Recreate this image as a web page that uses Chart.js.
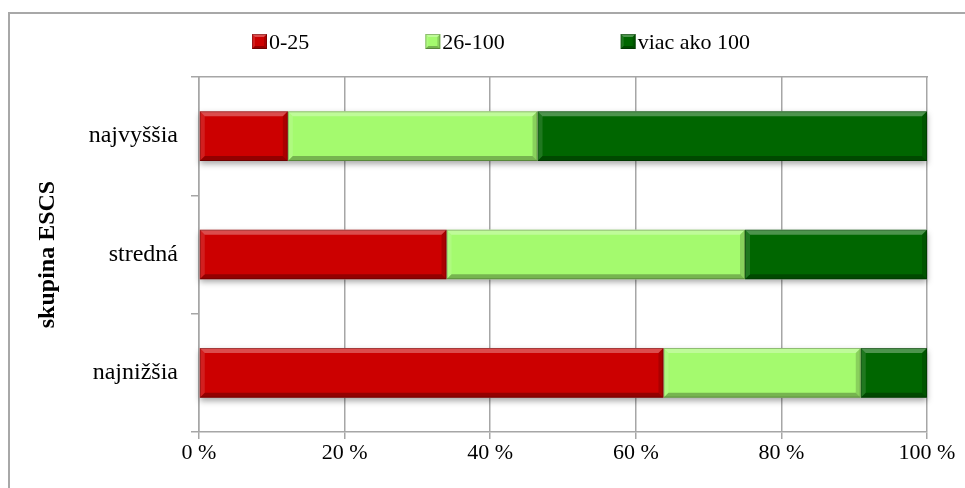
<!DOCTYPE html>
<html lang="sk">
<head>
    <meta charset="UTF-8">
    <title>skupina ESCS</title>
    <script src="https://cdn.jsdelivr.net/npm/chart.js"></script>
    <style>
        html, body { margin: 0; padding: 0; overflow: hidden; background: #fff; }
        .ramik {
            position: absolute; left: 8px; top: 12px;
            width: 1200px; height: 1000px;
            border-left: 2px solid #a8a8a8; border-top: 2px solid #a8a8a8;
        }
        .graf { position: absolute; left: 0; top: 0; width: 965px; height: 488px; }
    </style>
</head>
<body>
    <div class="ramik"></div>
    <div class="graf">
        <canvas id="grafESCS" width="965" height="488"></canvas>
    </div>

<script>
  // skupiny (zhora nadol)
  const skupiny = ['najvyššia', 'stredná', 'najnižšia'];

  // podiely v percentách pre každú skupinu
  const hodnoty0_25 = [12.2, 34.0, 63.8];
  const hodnoty26_100 = [34.3, 41.0, 27.1];
  const hodnotyNad100 = [53.5, 25.0, 9.1];

  const nazvySerii = ['0-25', '26-100', 'viac ako 100'];
  const farby = ['#cc0000', '#a4fa6e', '#006600'];

  const pismo = "'Liberation Serif', 'Times New Roman', serif";
  const velkost = 22;
  const sivaCiara = '#a6a6a6';

  // zošikmený okraj (bevel) okolo obdĺžnika
  function nakresliBevel(c, L, T, R, B, b) {
    c.save();
    c.fillStyle = 'rgba(255,255,255,0.30)';
    c.beginPath(); c.moveTo(L, T); c.lineTo(R, T); c.lineTo(R - b, T + b); c.lineTo(L + b, T + b); c.closePath(); c.fill();
    c.fillStyle = 'rgba(255,255,255,0.12)';
    c.beginPath(); c.moveTo(L, T); c.lineTo(L + b, T + b); c.lineTo(L + b, B - b); c.lineTo(L, B); c.closePath(); c.fill();
    c.fillStyle = 'rgba(0,0,0,0.28)';
    c.beginPath(); c.moveTo(L, B); c.lineTo(L + b, B - b); c.lineTo(R - b, B - b); c.lineTo(R, B); c.closePath(); c.fill();
    c.fillStyle = 'rgba(0,0,0,0.16)';
    c.beginPath(); c.moveTo(R, T); c.lineTo(R, B); c.lineTo(R - b, B - b); c.lineTo(R - b, T + b); c.closePath(); c.fill();
    c.strokeStyle = 'rgba(0,0,0,0.25)';
    c.lineWidth = 1;
    c.strokeRect(L + 0.5, T + 0.5, R - L - 1, B - T - 1);
    c.restore();
  }

  // tieň pod celým pruhom a bevel na každom segmente
  const bevelPlugin = {
    id: 'bevel',
    beforeDatasetsDraw(chart) {
      const c = chart.ctx;
      const metas = chart.getSortedVisibleDatasetMetas();
      if (!metas.length) return;
      const prvy = metas[0], posledny = metas[metas.length - 1];
      c.save();
      c.shadowColor = 'rgba(0,0,0,0.35)';
      c.shadowBlur = 6;
      c.shadowOffsetY = 3;
      c.fillStyle = '#ffffff';
      prvy.data.forEach((el, i) => {
        const a = el.getProps(['y', 'base', 'height'], true);
        const z = posledny.data[i].getProps(['x'], true);
        c.fillRect(a.base, a.y - a.height / 2, z.x - a.base, a.height);
      });
      c.restore();
    },
    afterDatasetsDraw(chart) {
      const c = chart.ctx;
      chart.getSortedVisibleDatasetMetas().forEach(meta => {
        meta.data.forEach(el => {
          const p = el.getProps(['x', 'y', 'base', 'height'], true);
          const L = Math.min(p.x, p.base), R = Math.max(p.x, p.base);
          nakresliBevel(c, L, p.y - p.height / 2, R, p.y + p.height / 2, 5);
        });
      });
    }
  };

  // legenda nad grafom
  const legendaPlugin = {
    id: 'legenda',
    afterDraw(chart) {
      const c = chart.ctx;
      const box = 15, medzera = 2, rozostup = 116, stred = 501, yStred = 42;
      c.save();
      c.font = velkost + 'px ' + pismo;
      c.textBaseline = 'middle';
      const sirky = chart.data.datasets.map(ds => box + medzera + c.measureText(ds.label).width);
      const spolu = sirky.reduce((s, w) => s + w, 0) + rozostup * (sirky.length - 1);
      let x = Math.round(stred - spolu / 2);
      chart.data.datasets.forEach((ds, i) => {
        c.fillStyle = ds.backgroundColor;
        c.fillRect(x, yStred - 8, box, box);
        nakresliBevel(c, x, yStred - 8, x + box, yStred - 8 + box, 3);
        c.fillStyle = '#000';
        c.fillText(ds.label, x + box + medzera, yStred + 1);
        x += sirky[i] + rozostup;
      });
      c.restore();
    }
  };

  const datasety = [hodnoty0_25, hodnoty26_100, hodnotyNad100].map((d, i) => ({
    label: nazvySerii[i],
    data: d,
    backgroundColor: farby[i],
    borderWidth: 0,
    categoryPercentage: 1,
    barPercentage: 0.42
  }));

  new Chart(document.getElementById('grafESCS'), {
    type: 'bar',
    data: { labels: skupiny, datasets: datasety },
    options: {
      indexAxis: 'y',
      responsive: false,
      animation: false,
      layout: { padding: { top: 77, right: 38, bottom: 0, left: 0 } },
      plugins: {
        legend: { display: false },
        tooltip: { enabled: false }
      },
      scales: {
        x: {
          stacked: true,
          min: 0,
          max: 100,
          ticks: {
            stepSize: 20,
            color: '#000',
            padding: 1,
            font: { family: pismo, size: velkost },
            callback: v => v + ' %'
          },
          grid: { color: sivaCiara, lineWidth: 1.5, tickLength: 7 },
          border: { color: sivaCiara, width: 1.5 },
          afterFit: s => { s.height = 56; }
        },
        x2: {
          position: 'top',
          min: 0,
          max: 100,
          ticks: { display: false },
          grid: { display: false },
          border: { display: true, color: sivaCiara, width: 1.5 },
          afterFit: s => { s.height = 0; }
        },
        y: {
          stacked: true,
          ticks: {
            color: '#000',
            padding: 13,
            font: { family: pismo, size: 24 }
          },
          grid: { drawOnChartArea: false, color: sivaCiara, lineWidth: 1.5, tickLength: 8, offset: true },
          border: { color: sivaCiara, width: 1.5 },
          title: {
            display: true,
            text: 'skupina ESCS',
            color: '#000',
            padding: { top: 33, bottom: 0 },
            font: { family: pismo, size: 24, weight: 'bold' }
          },
          afterFit: s => { s.width = 199; }
        }
      }
    },
    plugins: [bevelPlugin, legendaPlugin]
  });
</script>
</body>
</html>
